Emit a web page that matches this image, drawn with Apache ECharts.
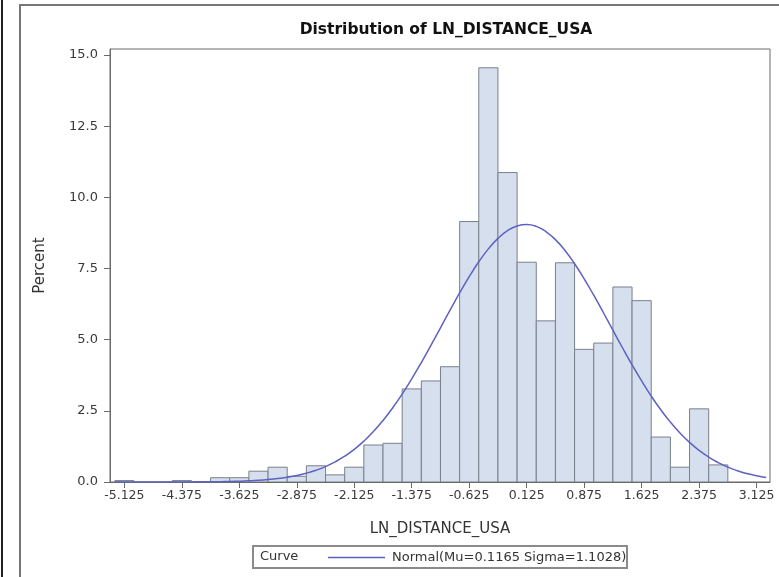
<!DOCTYPE html>
<html>
<head>
<meta charset="utf-8">
<script src="https://cdn.jsdelivr.net/npm/echarts@6/dist/echarts.min.js"></script>
<style>html,body{margin:0;padding:0;background:#fff;}#chart{width:779px;height:577px;}</style>
</head>
<body>
<div id="chart"></div>
<script>
// ---- data ----
const titleText = 'Distribution of LN_DISTANCE_USA';
const xAxisName = 'LN_DISTANCE_USA';
const yAxisName = 'Percent';
const binWidth = 0.25;
const binMidpoints = [-5.125,-4.875,-4.625,-4.375,-4.125,-3.875,-3.625,-3.375,-3.125,-2.875,-2.625,-2.375,-2.125,-1.875,-1.625,-1.375,-1.125,-0.875,-0.625,-0.375,-0.125,0.125,0.375,0.625,0.875,1.125,1.375,1.625,1.875,2.125,2.375,2.625,2.875,3.125];
const binPercent  = [0.05,0,0,0.05,0,0.15,0.15,0.38,0.52,0.2,0.57,0.25,0.52,1.3,1.36,3.27,3.55,4.05,9.15,14.55,10.87,7.72,5.66,7.7,4.66,4.88,6.85,6.37,1.58,0.52,2.57,0.6,0,0];
const curveX = [-5.25,-5.125,-5.0,-4.875,-4.75,-4.625,-4.5,-4.375,-4.25,-4.125,-4.0,-3.875,-3.75,-3.625,-3.5,-3.375,-3.25,-3.125,-3.0,-2.875,-2.75,-2.625,-2.5,-2.375,-2.25,-2.125,-2.0,-1.875,-1.75,-1.625,-1.5,-1.375,-1.25,-1.125,-1.0,-0.875,-0.75,-0.625,-0.5,-0.375,-0.25,-0.125,0,0.125,0.25,0.375,0.5,0.625,0.75,0.875,1.0,1.125,1.25,1.375,1.5,1.625,1.75,1.875,2.0,2.125,2.25,2.375,2.5,2.625,2.75,2.875,3.0,3.125,3.25];
const curveY = [0.0001,0.0001,0.0002,0.0003,0.0005,0.0009,0.0014,0.0023,0.0036,0.0056,0.0085,0.0129,0.019,0.0286,0.042,0.0602,0.086,0.120,0.167,0.228,0.308,0.412,0.542,0.705,0.905,1.146,1.435,1.771,2.161,2.599,3.089,3.624,4.196,4.799,5.416,6.037,6.642,7.214,7.735,8.189,8.558,8.830,8.994,9.044,8.978,8.799,8.513,8.132,7.668,7.139,6.561,5.954,5.332,4.716,4.117,3.549,3.019,2.536,2.103,1.722,1.392,1.111,0.875,0.680,0.522,0.396,0.296,0.219,0.160];
const curveName = 'Normal(Mu=0.1165 Sigma=1.1028)';
const legendLabel = 'Curve';
const xTickValues = [-5.125,-4.375,-3.625,-2.875,-2.125,-1.375,-0.625,0.125,0.875,1.625,2.375,3.125];
const yTickValues = [0,2.5,5,7.5,10,12.5,15];

const FONT = 'DejaVu Sans';
const chart = echarts.init(document.getElementById('chart'), null, {renderer:'canvas'});
const barData = binMidpoints.map((m,i)=>[m, binPercent[i]]);
const curveData = curveX.map((x,i)=>[x, curveY[i]]);

chart.setOption({
  animation:false,
  backgroundColor:'#fff',
  title:{text:titleText,left:441,textAlign:'center',top:17,
    textStyle:{fontFamily:FONT,fontSize:15.5,fontWeight:'bold',color:'#111'}},
  grid:{left:110,right:9,top:49,bottom:95,show:true,borderColor:'#6a6a6a',borderWidth:1,backgroundColor:'transparent'},
  xAxis:{type:'value',min:-5.3125,max:3.3,
    name:xAxisName,nameLocation:'middle',nameGap:40,
    nameTextStyle:{fontFamily:FONT,fontSize:15,color:'#333'},
    axisLine:{show:true,onZero:false,lineStyle:{color:'#6a6a6a'}},
    axisTick:{show:true,length:6,customValues:xTickValues,lineStyle:{color:'#6a6a6a'}},
    axisLabel:{customValues:xTickValues,margin:7,fontFamily:FONT,fontSize:12.5,color:'#3a3a3a',
      formatter:v=>v.toFixed(3)},
    splitLine:{show:false}},
  yAxis:{type:'value',min:0,max:15.21,
    name:yAxisName,nameLocation:'middle',nameGap:62,nameRotate:90,
    nameTextStyle:{fontFamily:FONT,fontSize:15,color:'#333'},
    axisLine:{show:true,onZero:false,lineStyle:{color:'#6a6a6a'}},
    axisTick:{show:true,length:6,customValues:yTickValues,lineStyle:{color:'#6a6a6a'}},
    axisLabel:{customValues:yTickValues,margin:12,fontFamily:FONT,fontSize:13,color:'#3a3a3a',
      formatter:v=>v.toFixed(1)},
    splitLine:{show:false}},
  legend:{show:true,left:323,top:546,itemWidth:57,itemHeight:1.5,itemGap:10,
    data:[{name:curveName,icon:'rect',itemStyle:{color:'#5d62c2'}}],
    textStyle:{fontFamily:FONT,fontSize:13,color:'#333',padding:[0,0,0,2]}},
  graphic:[
    {type:'line',shape:{x1:2,y1:0,x2:2,y2:577},style:{stroke:'#222',lineWidth:2}},
    {type:'polyline',shape:{points:[[20,580],[20,5],[785,5]]},style:{stroke:'#777',lineWidth:2,fill:null}},
    {type:'rect',shape:{x:253,y:546,width:374,height:22},style:{fill:'#fff',stroke:'#8a8a8a',lineWidth:2},z:-1},
    {type:'text',left:260,top:550,style:{text:legendLabel,fontFamily:FONT,fontSize:13,fill:'#333'}}
  ],
  series:[
    {type:'custom',name:'bars',data:barData,clip:true,
      renderItem:function(params,api){
        const c=api.value(0), v=api.value(1);
        if(!(v>0)) return null;
        const p0=api.coord([c-binWidth/2,v]);
        const p1=api.coord([c+binWidth/2,0]);
        return {type:'rect',shape:{x:p0[0],y:p0[1],width:p1[0]-p0[0],height:p1[1]-p0[1]},
          style:{fill:'#d5dfee',stroke:'#7a808a',lineWidth:1}};
      }},
    {type:'line',name:curveName,data:curveData,smooth:true,symbol:'none',showSymbol:false,
      lineStyle:{color:'#5d62c2',width:1.5},itemStyle:{color:'#5d62c2'},z:5}
  ]
});
</script>
</body>
</html>
